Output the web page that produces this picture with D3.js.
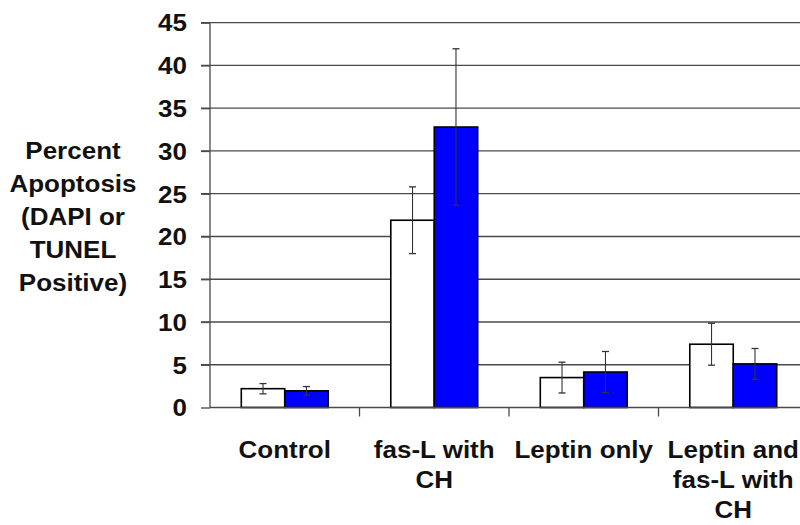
<!DOCTYPE html>
<html>
<head>
<meta charset="utf-8">
<script src="https://cdn.jsdelivr.net/npm/d3@7"></script>
<style>
  html, body { margin: 0; padding: 0; background: #fff; }
  svg { display: block; }
  text { font-family: "Liberation Sans", Arial, sans-serif; font-weight: bold; fill: #111; }
</style>
</head>
<body>
<svg id="chart" width="800" height="525"></svg>
<script>
// ---- data ----
const categories = ["Control", "fas-L with CH", "Leptin only", "Leptin and fas-L with CH"];
const categoryLines = [["Control"], ["fas-L with", "CH"], ["Leptin only"], ["Leptin and", "fas-L with", "CH"]];
const seriesNames = ["DAPI", "TUNEL"];
const dapiValues = [2.2, 21.9, 3.5, 7.4];
const dapiErrors = [0.6, 3.9, 1.8, 2.45];
const tunelValues = [1.95, 32.8, 4.15, 5.1];
const tunelErrors = [0.5, 9.15, 2.4, 1.8];
const yTicks = [0, 5, 10, 15, 20, 25, 30, 35, 40, 45];
const yLabelLines = ["Percent", "Apoptosis", "(DAPI or", "TUNEL", "Positive)"];

const seriesValues = [dapiValues, tunelValues];
const seriesErrors = [dapiErrors, tunelErrors];
const seriesFill = ["#ffffff", "#0000ff"];

const svg = d3.select("#chart");
const SX = 1.13;

const x0 = d3.scaleBand().domain(categories).range([210, 808]).padding(0);
const x1 = d3.scaleBand().domain(seriesNames).range([0, x0.bandwidth()]).paddingInner(0).paddingOuter(0.72);
const y = d3.scaleLinear().domain([0, 45]).range([407.5, 22.7]);

// gridlines
svg.append("g").selectAll("line").data(yTicks.filter(d => d > 0)).join("line")
  .attr("x1", 201).attr("x2", 800)
  .attr("y1", d => y(d)).attr("y2", d => y(d))
  .attr("stroke", "#4a4a4a").attr("stroke-width", 1.3);

// y axis
const yAxis = d3.axisLeft(y).tickValues(yTicks).tickSize(9).tickPadding(14).tickFormat(d3.format("d"));
const gy = svg.append("g").attr("transform", "translate(210,0)").call(yAxis);
gy.select(".domain").attr("stroke", "#4a4a4a").attr("stroke-width", 1.3).attr("d", `M0,${y(45)}V${y(0)}`);
gy.selectAll(".tick line").attr("stroke", "#4a4a4a").attr("stroke-width", 1.3);
gy.selectAll(".tick text")
  .attr("font-size", 23).attr("font-weight", "bold").attr("fill", "#111")
  .attr("font-family", "Liberation Sans, Arial, sans-serif")
  .attr("dy", "0.36em")
  .each(function() {
    const t = d3.select(this);
    const xx = +t.attr("x");
    t.attr("x", null).attr("transform", `translate(${xx},0) scale(${SX},1)`);
  });

// bars
const groups = svg.append("g").selectAll("g").data(categories).join("g")
  .attr("transform", d => `translate(${x0(d)},0)`);

seriesNames.forEach((s, si) => {
  groups.append("rect")
    .attr("x", x1(s))
    .attr("width", x1.bandwidth())
    .attr("y", (d, i) => y(seriesValues[si][i]))
    .attr("height", (d, i) => y(0) - y(seriesValues[si][i]))
    .attr("fill", seriesFill[si])
    .attr("stroke", "#000").attr("stroke-width", 1.6);
});

// x axis
const gx = svg.append("g");
gx.append("line").attr("x1", 210).attr("x2", 800).attr("y1", y(0)).attr("y2", y(0))
  .attr("stroke", "#4a4a4a").attr("stroke-width", 1.3);
gx.selectAll(".xt").data(categories.slice(1)).join("line").attr("class", "xt")
  .attr("x1", d => x0(d)).attr("x2", d => x0(d))
  .attr("y1", y(0)).attr("y2", y(0) + 9)
  .attr("stroke", "#4a4a4a").attr("stroke-width", 1.3);

// error bars
seriesNames.forEach((s, si) => {
  const eg = groups.append("g");
  const cx = x1(s) + x1.bandwidth() / 2;
  eg.append("line")
    .attr("x1", cx).attr("x2", cx)
    .attr("y1", (d, i) => y(seriesValues[si][i] + seriesErrors[si][i]))
    .attr("y2", (d, i) => y(seriesValues[si][i] - seriesErrors[si][i]))
    .attr("stroke", "#333").attr("stroke-width", 1.1);
  [1, -1].forEach(sign => {
    eg.append("line")
      .attr("x1", cx - 3.5).attr("x2", cx + 3.5)
      .attr("y1", (d, i) => y(seriesValues[si][i] + sign * seriesErrors[si][i]))
      .attr("y2", (d, i) => y(seriesValues[si][i] + sign * seriesErrors[si][i]))
      .attr("stroke", "#333").attr("stroke-width", 1.3);
  });
});

// category labels
categories.forEach((c, i) => {
  const cx = x0(c) + x0.bandwidth() / 2;
  categoryLines[i].forEach((line, li) => {
    svg.append("text")
      .attr("text-anchor", "middle")
      .attr("font-size", 23)
      .attr("transform", `translate(${cx},${458 + li * 30}) scale(${SX},1)`)
      .text(line);
  });
});

// y label
yLabelLines.forEach((line, li) => {
  svg.append("text")
    .attr("text-anchor", "middle")
    .attr("font-size", 23)
    .attr("transform", `translate(73,${159 + li * 33}) scale(${SX},1)`)
    .text(line);
});
</script>
</body>
</html>
